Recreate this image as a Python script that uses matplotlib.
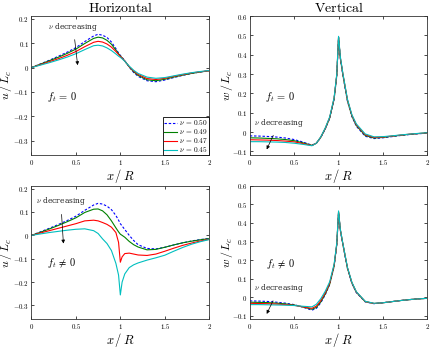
import matplotlib
matplotlib.use("Agg")
import matplotlib.pyplot as plt
from matplotlib.ticker import FuncFormatter

plt.rcParams['mathtext.fontset'] = 'cm'
plt.rcParams['font.family'] = ['DejaVu Serif']

# Datos
xs = [0, 0.1, 0.2, 0.3, 0.4, 0.5, 0.6, 0.7, 0.75, 0.8, 0.85, 0.9, 0.95, 0.98,
      1.0, 1.02, 1.05, 1.1, 1.15, 1.2, 1.3, 1.4, 1.5, 1.6, 1.7, 1.8, 1.9, 2.0]
nus = ['0.50', '0.49', '0.47', '0.45']

# Horizontal, f_t = 0
u_ft0 = [
    [0, 0.015, 0.03, 0.046, 0.063, 0.082, 0.107, 0.13, 0.137, 0.133, 0.124, 0.105, 0.078, 0.06,
     0.05, 0.042, 0.028, 0.002, -0.02, -0.036, -0.054, -0.058, -0.051, -0.041, -0.032, -0.024, -0.018, -0.013],
    [0, 0.014, 0.028, 0.042, 0.058, 0.076, 0.099, 0.12, 0.125, 0.122, 0.112, 0.096, 0.072, 0.057,
     0.048, 0.04, 0.027, 0.003, -0.017, -0.032, -0.05, -0.054, -0.048, -0.039, -0.031, -0.024, -0.018, -0.013],
    [0, 0.012, 0.024, 0.036, 0.05, 0.066, 0.086, 0.104, 0.108, 0.105, 0.097, 0.084, 0.066, 0.054,
     0.046, 0.039, 0.027, 0.004, -0.014, -0.028, -0.045, -0.049, -0.044, -0.036, -0.029, -0.022, -0.017, -0.013],
    [0, 0.01, 0.02, 0.031, 0.043, 0.057, 0.074, 0.09, 0.092, 0.089, 0.081, 0.07, 0.056, 0.047,
     0.042, 0.036, 0.026, 0.006, -0.011, -0.024, -0.039, -0.044, -0.041, -0.034, -0.027, -0.021, -0.016, -0.012],
]

# Vertical, f_t = 0
w_ft0 = [
    [-0.02, -0.021, -0.023, -0.026, -0.031, -0.039, -0.052, -0.068, -0.058, -0.028, 0.015, 0.07, 0.17, 0.29,
     0.49, 0.38, 0.29, 0.16, 0.08, 0.03, -0.022, -0.034, -0.03, -0.024, -0.018, -0.013, -0.009, -0.006],
    [-0.03, -0.031, -0.033, -0.035, -0.039, -0.045, -0.056, -0.069, -0.058, -0.027, 0.017, 0.072, 0.172, 0.293,
     0.49, 0.382, 0.293, 0.163, 0.083, 0.034, -0.018, -0.031, -0.028, -0.022, -0.017, -0.012, -0.008, -0.005],
    [-0.04, -0.041, -0.042, -0.044, -0.047, -0.051, -0.06, -0.07, -0.058, -0.026, 0.019, 0.075, 0.175, 0.296,
     0.49, 0.385, 0.297, 0.167, 0.087, 0.038, -0.014, -0.028, -0.026, -0.021, -0.016, -0.011, -0.008, -0.005],
    [-0.05, -0.05, -0.051, -0.052, -0.054, -0.058, -0.064, -0.071, -0.058, -0.025, 0.021, 0.078, 0.178, 0.3,
     0.495, 0.39, 0.3, 0.17, 0.09, 0.042, -0.01, -0.025, -0.024, -0.02, -0.015, -0.011, -0.007, -0.004],
]

# Horizontal, f_t != 0
u_ft1 = [
    [0, 0.015, 0.03, 0.046, 0.063, 0.082, 0.107, 0.13, 0.137, 0.134, 0.125, 0.11, 0.085, 0.065,
     0.05, 0.04, 0.025, 0.0, -0.022, -0.04, -0.056, -0.058, -0.051, -0.041, -0.032, -0.024, -0.018, -0.013],
    [0, 0.013, 0.027, 0.042, 0.058, 0.075, 0.098, 0.112, 0.113, 0.105, 0.088, 0.062, 0.032, 0.015,
     0.005, 0.0, -0.008, -0.026, -0.04, -0.05, -0.062, -0.06, -0.051, -0.041, -0.032, -0.025, -0.019, -0.014],
    [0, 0.01, 0.02, 0.03, 0.04, 0.05, 0.062, 0.065, 0.062, 0.055, 0.047, 0.035, 0.012, -0.03,
     -0.115, -0.092, -0.078, -0.076, -0.08, -0.084, -0.086, -0.08, -0.068, -0.055, -0.043, -0.033, -0.024, -0.017],
    [0, 0.006, 0.012, 0.017, 0.022, 0.026, 0.028, 0.02, 0.008, -0.015, -0.035, -0.065, -0.12, -0.17,
     -0.255, -0.2, -0.165, -0.138, -0.126, -0.118, -0.106, -0.096, -0.085, -0.068, -0.052, -0.038, -0.027, -0.018],
]

# Vertical, f_t != 0
w_ft1 = [
    [-0.02, -0.021, -0.023, -0.027, -0.032, -0.04, -0.054, -0.07, -0.06, -0.03, 0.013, 0.068, 0.165, 0.28,
     0.455, 0.36, 0.28, 0.155, 0.075, 0.025, -0.025, -0.035, -0.03, -0.024, -0.018, -0.013, -0.009, -0.006],
    [-0.027, -0.028, -0.029, -0.032, -0.036, -0.042, -0.053, -0.065, -0.055, -0.025, 0.017, 0.07, 0.168, 0.283,
     0.458, 0.362, 0.282, 0.157, 0.077, 0.027, -0.024, -0.034, -0.03, -0.024, -0.018, -0.013, -0.009, -0.006],
    [-0.033, -0.034, -0.035, -0.037, -0.04, -0.044, -0.052, -0.06, -0.048, -0.018, 0.023, 0.075, 0.172, 0.287,
     0.46, 0.364, 0.284, 0.159, 0.079, 0.028, -0.023, -0.034, -0.03, -0.024, -0.018, -0.013, -0.009, -0.006],
    [-0.04, -0.04, -0.041, -0.042, -0.043, -0.045, -0.049, -0.052, -0.038, -0.008, 0.032, 0.083, 0.178, 0.292,
     0.465, 0.366, 0.286, 0.161, 0.081, 0.03, -0.022, -0.033, -0.03, -0.024, -0.018, -0.013, -0.009, -0.006],
]

colores = ['#0000ff', '#008000', '#ff0000', '#00bfbf']
estilos = [(0, (2.2, 1.6)), '-', '-', '-']

fmt = FuncFormatter(lambda v, p: '$%g$' % round(v, 3))


def dibujar(ax, datos, ylim, yticks, ylabel, ylx, ftexto, ftpos, anot, flecha):
    for ys, c, ls, nu in zip(datos, colores, estilos, nus):
        ax.plot(xs, ys, color=c, linestyle=ls, linewidth=0.8, label=r'$\nu\,=\,%s$' % nu)
    ax.set_xlim(0, 2)
    ax.set_ylim(*ylim)
    ax.set_xticks([0, 0.5, 1, 1.5, 2])
    ax.set_yticks(yticks)
    ax.xaxis.set_major_formatter(fmt)
    ax.yaxis.set_major_formatter(fmt)
    ax.tick_params(direction='in', top=True, right=True, labelsize=5, length=2.5, width=0.5, pad=1.8)
    for s in ax.spines.values():
        s.set_linewidth(0.6)
        s.set_color('#333333')
    ax.set_xlabel(r'$x\,/\,R$', fontsize=9, va='center')
    ax.xaxis.set_label_coords(0.5, -0.15)
    ax.set_ylabel(ylabel, fontsize=8.5, va='center')
    ax.yaxis.set_label_coords(ylx, 0.5)
    ax.text(ftpos[0], ftpos[1], ftexto, fontsize=7.5, ha='center', va='center')
    ax.annotate(r'$\nu$ decreasing', xy=flecha, xytext=anot, fontsize=5.5,
                ha='center', va='center', color='#222222',
                arrowprops=dict(arrowstyle='-|>', color='k', lw=0.5, mutation_scale=5,
                                shrinkA=3, shrinkB=0))


fig = plt.figure(figsize=(4.36, 3.48), dpi=100)
ax1 = fig.add_axes([0.072, 0.554, 0.408, 0.40])
ax2 = fig.add_axes([0.573, 0.554, 0.407, 0.40])
ax3 = fig.add_axes([0.072, 0.082, 0.408, 0.384])
ax4 = fig.add_axes([0.573, 0.082, 0.407, 0.384])

uticks = [-0.3, -0.2, -0.1, 0, 0.1, 0.2]
wticks = [-0.1, 0, 0.1, 0.2, 0.3, 0.4, 0.5, 0.6]

dibujar(ax1, u_ft0, (-0.36, 0.212), uticks, r'$u\,/\,L_c$', -0.14, r'$f_t\,=\,0$', (0.34, -0.12),
        (0.47, 0.168), (0.52, 0.01))
dibujar(ax2, w_ft0, (-0.12, 0.6), wticks, r'$w\,/\,L_c$', -0.13, r'$f_t\,=\,0$', (0.34, 0.18),
        (0.33, 0.048), (0.19, -0.09))
dibujar(ax3, u_ft1, (-0.36, 0.212), uticks, r'$u\,/\,L_c$', -0.14, r'$f_t\,\neq\,0$', (0.34, -0.12),
        (0.33, 0.145), (0.36, -0.035))
dibujar(ax4, w_ft1, (-0.12, 0.6), wticks, r'$w\,/\,L_c$', -0.13, r'$f_t\,\neq\,0$', (0.34, 0.18),
        (0.33, 0.048), (0.19, -0.09))

ax1.set_title(r'$\mathrm{Horizontal}$', fontsize=10, pad=3)
ax2.set_title(r'$\mathrm{Vertical}$', fontsize=10, pad=3)

leg = ax1.legend(loc='lower right', fontsize=5.3, borderaxespad=0, handlelength=1.8,
                 handletextpad=0.3, labelspacing=0.0, borderpad=0.15, handleheight=0.5,
                 fancybox=False, framealpha=1, edgecolor='k')
leg.get_frame().set_linewidth(0.6)

fig.savefig('out.png', dpi=100)
